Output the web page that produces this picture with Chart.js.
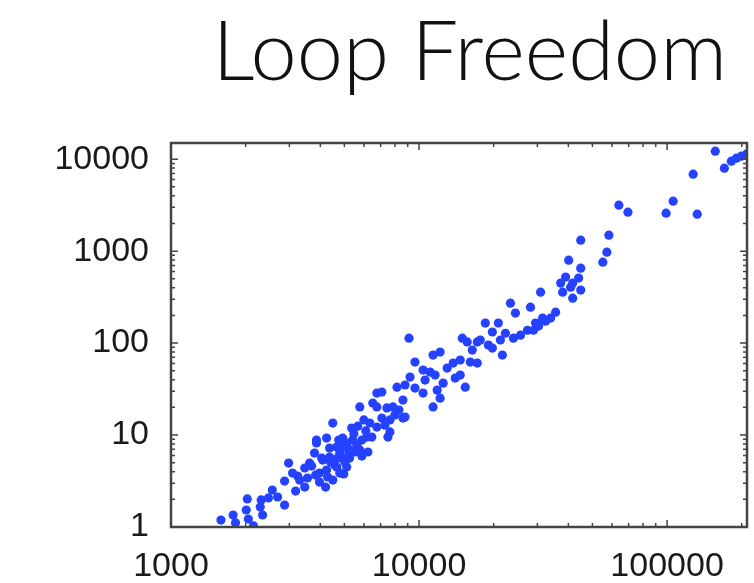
<!DOCTYPE html>
<html>
<head>
<meta charset="utf-8">
<script src="https://cdn.jsdelivr.net/npm/chart.js@4.4.1/dist/chart.umd.min.js"></script>
<style>
  html, body { margin: 0; padding: 0; background: #fff; }
</style>
</head>
<body>
<canvas id="loopChart" width="754" height="583"></canvas>
<script>
const titleText = "Loop Freedom";

// scatter points
const xValues = [
  1590, 1780, 1820, 2030, 2010, 2050, 2150, 2310, 2290, 2340,
  2560, 2690, 2870, 2870, 2980, 3090, 3240, 3300, 3460, 3460,
  3620, 3690, 3790, 3860, 3830, 3970, 4050, 3970, 4200, 4240,
  4280, 4090, 4240, 3860, 4360, 4490, 4490, 4570, 4660, 4660,
  4790, 4790, 4920, 4920, 5110, 5110, 4970, 5250, 5210, 5350,
  5400, 5610, 5660, 5770, 5770, 6160, 6100, 6220, 6330, 6450,
  6510, 6760, 6760, 6760, 7080, 7080, 7420, 7630, 7630, 7850,
  7990, 8150, 8300, 8610, 8610, 8780, 8780, 9110, 9200, 9630,
  10380, 10380, 11080, 11390, 11390, 11610, 11830, 12160, 12160, 12510,
  12980, 13730, 14660, 14660, 14940, 15360, 15640, 16090, 17170, 17170,
  17660, 18500, 19030, 19750, 19750, 20880, 21280, 21680, 22300, 23360,
  24020, 24470, 25640, 27360, 28140, 29490, 30900, 31480, 35530, 37230,
  37930, 38990, 40100, 40850, 41640, 41640, 44010, 44860, 44860, 44860,
  55070, 57170, 58260, 63930, 69530, 99080, 105800, 127400, 132300, 156400,
  170200, 181600, 190300, 199300, 208800,
  28940, 30330, 32360, 33920, 7490, 4360, 5020, 5510, 4700, 5880,
  4880, 5210, 5460, 4745, 4400, 5880, 5990, 7280, 3550, 3180,
  2470, 9630, 10580, 13990, 16390
];
const yValues = [
  1.19, 1.35, 1.11, 2.02, 1.53, 1.22, 1.03, 1.97, 1.65, 1.35,
  2.52, 2.12, 3.16, 1.73, 4.96, 3.86, 3.58, 3.24, 2.72, 4.38,
  4.96, 4.60, 6.37, 8.19, 3.67, 3.86, 5.62, 3.08, 2.72, 4.17,
  3.50, 5.35, 9.28, 8.82, 5.77, 13.5, 3.24, 4.72, 7.41, 4.49,
  3.86, 6.37, 5.62, 9.28, 8.19, 4.49, 3.77, 5.62, 7.04, 11.9,
  8.82, 7.79, 12.5, 20.2, 6.87, 9.51, 11.1, 6.54, 13.5, 9.51,
  22.3, 20.2, 28.6, 12.2, 29.3, 15.3, 19.7, 14.6, 10.8, 20.2,
  16.5, 33.2, 18.7, 15.3, 24.0, 35.0, 15.7, 113, 42.7, 32.4,
  50.9, 28.6, 48.4, 74.1, 20.2, 44.9, 30.8, 79.8, 25.2, 36.7,
  53.5, 60.6, 65.3, 44.9, 113, 33.2, 103, 62.2, 103, 60.6,
  108, 165, 95.1, 88.2, 132, 165, 108, 74.1, 128, 272,
  113, 212, 122, 138, 246, 165, 358, 187, 217, 449,
  358, 522, 798, 406, 308, 449, 509, 1317, 653, 377,
  759, 975, 1492, 3162, 2654, 2588, 3495, 6871, 2525, 12220,
  7984, 9512, 10250, 10780, 11330,
  138, 153, 173, 187, 9.51, 7.22, 5.09, 6.54, 5.62, 8.82,
  7.41, 6.54, 10.3, 8.82, 5.09, 5.91, 14.6, 12.8, 3.41, 2.46,
  2.07, 62.2, 39.6, 41.6, 83.9
];

const xTickLabels = [1000, 10000, 100000];
const yTickLabels = [1, 10, 100, 1000, 10000];

const points = xValues.map((x, i) => ({ x: x, y: yValues[i] }));

// true when the tick sits on 1..9 times a power of ten
function wholeStep(v) {
  const s = v / Math.pow(10, Math.floor(Math.log10(v) + 1e-9));
  return Math.abs(s - Math.round(s)) < 1e-6;
}
function decade(v) {
  const l = Math.log10(v);
  return Math.abs(l - Math.round(l)) < 1e-9;
}

// frame with inward tick marks on all four sides
const frame = {
  id: 'frame',
  afterDatasetsDraw(chart) {
    const ctx = chart.ctx;
    const a = chart.chartArea;
    const sx = chart.scales.x, sy = chart.scales.y;
    ctx.save();
    ctx.strokeStyle = '#444';
    ctx.lineWidth = 1.5;
    ctx.beginPath();
    sx.ticks.forEach(t => {
      if (!wholeStep(t.value)) return;
      const px = sx.getPixelForValue(t.value);
      if (px <= a.left + 1 || px >= a.right - 1) return;
      const len = decade(t.value) ? 7 : 4;
      ctx.moveTo(px, a.bottom); ctx.lineTo(px, a.bottom - len);
      ctx.moveTo(px, a.top); ctx.lineTo(px, a.top + len);
    });
    sy.ticks.forEach(t => {
      if (!wholeStep(t.value)) return;
      const py = sy.getPixelForValue(t.value);
      if (py <= a.top + 1 || py >= a.bottom - 1) return;
      const len = decade(t.value) ? 7 : 4;
      ctx.moveTo(a.left, py); ctx.lineTo(a.left + len, py);
      ctx.moveTo(a.right, py); ctx.lineTo(a.right - len, py);
    });
    ctx.stroke();
    ctx.lineWidth = 2.5;
    ctx.strokeRect(a.left, a.top, a.right - a.left, a.bottom - a.top);
    ctx.restore();
  }
};

const slideTitle = {
  id: 'slideTitle',
  afterDraw(chart) {
    const ctx = chart.ctx;
    ctx.save();
    ctx.font = '300 83px Lato, "Open Sans", sans-serif';
    ctx.fillStyle = '#111';
    ctx.textAlign = 'right';
    ctx.textBaseline = 'alphabetic';
    ctx.fillText(titleText, 727, 80);
    ctx.restore();
  }
};

const tickFont = { family: '"Liberation Sans", Arial, sans-serif', size: 34 };

new Chart(document.getElementById('loopChart').getContext('2d'), {
  type: 'scatter',
  data: {
    datasets: [{
      data: points,
      backgroundColor: '#2442ff',
      borderWidth: 0,
      pointRadius: 4.6,
      pointHoverRadius: 4.6
    }]
  },
  options: {
    responsive: false,
    animation: false,
    layout: { padding: { top: 143, right: 7, left: 0, bottom: 0 } },
    plugins: {
      legend: { display: false },
      tooltip: { enabled: false },
      title: { display: false }
    },
    scales: {
      x: {
        type: 'logarithmic',
        min: 1000,
        max: 210000,
        grid: { display: false, drawTicks: false },
        border: { display: false },
        afterFit: s => { s.height = 56; s.paddingRight = 0; s.paddingLeft = 0; },
        ticks: {
          autoSkip: false,
          maxRotation: 0,
          padding: 19,
          color: '#1a1a1a',
          font: tickFont,
          callback: v => xTickLabels.includes(v) ? String(v) : ''
        }
      },
      y: {
        type: 'logarithmic',
        min: 1,
        max: 15000,
        grid: { display: false, drawTicks: false },
        border: { display: false },
        afterFit: s => { s.width = 171; },
        ticks: {
          autoSkip: false,
          padding: 22,
          color: '#1a1a1a',
          font: tickFont,
          callback: v => yTickLabels.includes(v) ? String(v) : ''
        }
      }
    }
  },
  plugins: [frame, slideTitle]
});
</script>
</body>
</html>
